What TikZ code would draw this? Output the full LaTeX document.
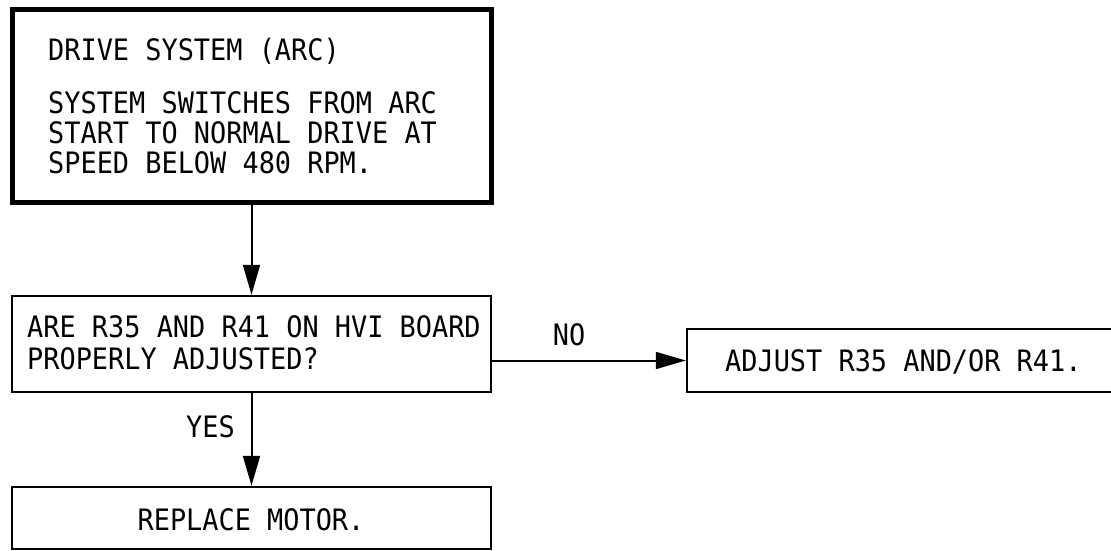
\documentclass[tikz,border=0pt]{standalone}
\usepackage{fontspec}
\newfontfamily\drawfont[FakeStretch=0.912]{DejaVu Sans Mono}
\usetikzlibrary{arrows.meta}
\begin{document}
\begin{tikzpicture}[x=1pt,y=-1pt,
  boxline/.style={draw=black, line width=2.5pt, inner sep=0pt},
  heavybox/.style={draw=black, line width=5pt, inner sep=0pt},
  txt/.style={font=\drawfont\fontsize{29.5}{32}\selectfont, inner sep=0pt, anchor=base west},
  flow/.style={draw=black, line width=2pt, -{Triangle[length=30pt,width=17pt]}}]
\useasboundingbox (0,0) rectangle (1111,551);
\fill[white] (0,0) rectangle (1111,551);

% boxes
\node[heavybox, minimum width=479pt, minimum height=192pt] (top) at (251.5,106) {};
\node[boxline, minimum width=479pt, minimum height=96pt] (mid) at (251.5,344) {};
\node[boxline, minimum width=479pt, minimum height=62pt] (bot) at (251.5,518) {};
\node[boxline, minimum width=440pt, minimum height=63pt] (rbox) at (907,360.5) {};

% texts
\node[txt] (t1) at (48,60) {DRIVE SYSTEM (ARC)};
\node[txt] (t2) at (48,113) {SYSTEM SWITCHES FROM ARC};
\node[txt] (t3) at (48,143) {START TO NORMAL DRIVE AT};
\node[txt] (t4) at (48,173) {SPEED BELOW 480 RPM.};
\node[txt] (m1) at (27,337) {ARE R35 AND R41 ON HVI BOARD};
\node[txt] (m2) at (27,369) {PROPERLY ADJUSTED?};
\node[txt] (r1) at (725,371) {ADJUST R35 AND/OR R41.};
\node[txt, anchor=base] (b1) at (251,530) {REPLACE MOTOR.};

% connectors
\draw[flow] (top.south) -- (mid.north);
\draw[flow] (mid.south) -- (bot.north);
\draw[flow] (mid.east |- rbox.west) -- (rbox.west);

% labels
\node[txt, anchor=base] (no) at (569,345) {NO};
\node[txt] (yes) at (186,437) {YES};
\end{tikzpicture}
\end{document}
